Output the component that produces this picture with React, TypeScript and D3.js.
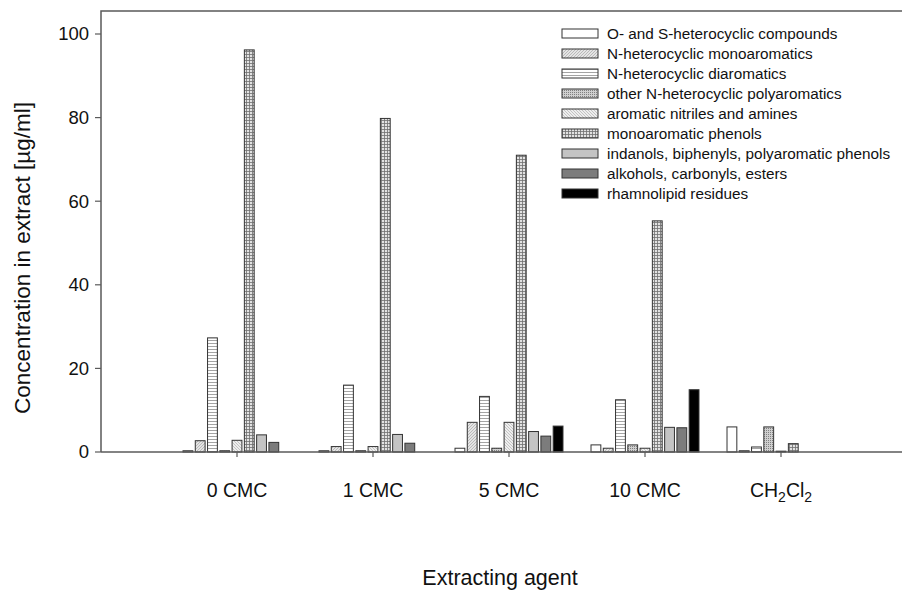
import React, { useEffect, useRef } from 'react'
import * as d3 from 'd3'

// categories on the x axis
const agents = ['0 CMC', '1 CMC', '5 CMC', '10 CMC', 'CH2Cl2']

const seriesNames = [
  'O- and S-heterocyclic compounds',
  'N-heterocyclic monoaromatics',
  'N-heterocyclic diaromatics',
  'other N-heterocyclic polyaromatics',
  'aromatic nitriles and amines',
  'monoaromatic phenols',
  'indanols, biphenyls, polyaromatic phenols',
  'alkohols, carbonyls, esters',
  'rhamnolipid residues'
]

// values per series, one per agent (µg/ml)
const oAndSHet = [0.3, 0.3, 0.9, 1.7, 6.0]
const nHetMono = [2.7, 1.3, 7.1, 0.9, 0.3]
const nHetDi = [27.3, 16.0, 13.3, 12.5, 1.2]
const nHetPoly = [0.3, 0.3, 0.9, 1.7, 6.0]
const nitrilesAmines = [2.8, 1.3, 7.1, 0.9, 0.2]
const monoPhenols = [96.2, 79.8, 71.0, 55.3, 2.0]
const indanols = [4.1, 4.2, 4.9, 5.9, 0]
const alcohols = [2.3, 2.1, 3.8, 5.8, 0]
const rhamnolipids = [0, 0, 6.2, 14.9, 0]

const yTicks = [0, 20, 40, 60, 80, 100]

const seriesValues = [oAndSHet, nHetMono, nHetDi, nHetPoly, nitrilesAmines, monoPhenols, indanols, alcohols, rhamnolipids]

// fill for each series (pattern ids or plain colours)
const fills = ['#ffffff', 'url(#pMono)', 'url(#pDi)', 'url(#pPoly)', 'url(#pNitr)', 'url(#pGrid)', '#c4c4c4', '#7c7c7c', '#000000']

const FONT = 'Liberation Sans, Arial, sans-serif'

export default function App() {
  const ref = useRef<SVGSVGElement>(null)

  useEffect(() => {
    const svg = d3.select(ref.current)
    svg.selectAll('*').remove()

    const width = 902
    const height = 590

    // x: agents sit at 1..5 on a linear axis from 0 to 6
    const x = d3.scaleLinear().domain([0, agents.length + 1]).range([101, 917])
    const y = d3.scaleLinear().domain([0, 100]).range([452, 34])
    const step = x(1) - x(0)
    const inner = d3.scaleBand<number>()
      .domain(d3.range(seriesNames.length))
      .range([-step * 0.397, step * 0.397])
      .paddingInner(0.2)

    const defs = svg.append('defs')

    const addPattern = (id: string, size: number, bg: string, draw: (p: any) => void) => {
      const p = defs.append('pattern')
        .attr('id', id)
        .attr('patternUnits', 'userSpaceOnUse')
        .attr('width', size)
        .attr('height', size)
      p.append('rect').attr('width', size).attr('height', size).attr('fill', bg)
      draw(p)
    }

    // N-heterocyclic monoaromatics: fine diagonal hatch
    addPattern('pMono', 3, '#e4e4e4', p => {
      p.append('path').attr('d', 'M0,3 L3,0').attr('stroke', '#a6a6a6').attr('stroke-width', 0.7)
    })
    // diaromatics: horizontal lines
    addPattern('pDi', 3, '#ffffff', p => {
      p.append('path').attr('d', 'M0,1.5 L3,1.5').attr('stroke', '#a4a4a4').attr('stroke-width', 1)
    })
    // polyaromatics: dense cross hatch
    addPattern('pPoly', 2, '#cfcfcf', p => {
      p.append('rect').attr('width', 1).attr('height', 1).attr('fill', '#808080')
    })
    // nitriles and amines: diagonal the other way
    addPattern('pNitr', 3, '#eeeeee', p => {
      p.append('path').attr('d', 'M0,0 L3,3').attr('stroke', '#b0b0b0').attr('stroke-width', 0.7)
    })
    // monoaromatic phenols: grid
    addPattern('pGrid', 3, '#e2e2e2', p => {
      p.append('path').attr('d', 'M0,0.5 L3,0.5 M0.5,0 L0.5,3').attr('stroke', '#707070').attr('stroke-width', 0.8)
    })

    svg.append('rect').attr('width', width).attr('height', height).attr('fill', '#fff')

    // bars
    seriesValues.forEach((vals, s) => {
      svg.append('g')
        .selectAll('rect')
        .data(vals.map((v, i) => ({ v, i })).filter(d => d.v > 0))
        .enter()
        .append('rect')
        .attr('x', d => x(d.i + 1) + (inner(s) as number))
        .attr('y', d => y(d.v))
        .attr('width', inner.bandwidth())
        .attr('height', d => y(0) - y(d.v))
        .attr('fill', fills[s])
        .attr('stroke', '#333')
        .attr('stroke-width', 1)
    })

    // frame
    const axisColor = '#5a5a5a'
    const top = y(105.5)
    svg.append('path')
      .attr('d', `M${x(0)},${y(0)} L${x(0)},${top} L${width + 2},${top}`)
      .attr('fill', 'none')
      .attr('stroke', axisColor)
      .attr('stroke-width', 1.5)
    svg.append('line')
      .attr('x1', x(0)).attr('x2', width + 2)
      .attr('y1', y(0)).attr('y2', y(0))
      .attr('stroke', axisColor)
      .attr('stroke-width', 1.5)

    // y ticks
    const yt = svg.append('g')
    yt.selectAll('line')
      .data(yTicks)
      .enter()
      .append('line')
      .attr('x1', x(0) - 6).attr('x2', x(0))
      .attr('y1', d => y(d)).attr('y2', d => y(d))
      .attr('stroke', axisColor)
      .attr('stroke-width', 1.2)
    yt.selectAll('text')
      .data(yTicks)
      .enter()
      .append('text')
      .attr('x', x(0) - 12)
      .attr('y', d => y(d))
      .attr('dy', '0.35em')
      .attr('text-anchor', 'end')
      .attr('font-family', FONT)
      .attr('font-size', 18.5)
      .attr('fill', '#111')
      .text(d => d)

    // x ticks and labels
    const xt = svg.append('g')
    xt.selectAll('line')
      .data(agents)
      .enter()
      .append('line')
      .attr('x1', (d, i) => x(i + 1)).attr('x2', (d, i) => x(i + 1))
      .attr('y1', y(0)).attr('y2', y(0) + 5)
      .attr('stroke', axisColor)
      .attr('stroke-width', 1.2)
    xt.selectAll('text')
      .data(agents)
      .enter()
      .append('text')
      .attr('x', (d, i) => x(i + 1))
      .attr('y', 497)
      .attr('text-anchor', 'middle')
      .attr('font-family', FONT)
      .attr('font-size', 19.5)
      .attr('fill', '#111')
      .each(function (d) {
        const t = d3.select(this)
        if (d === 'CH2Cl2') {
          t.append('tspan').text('CH')
          t.append('tspan').attr('font-size', 14).attr('dy', 5).text('2')
          t.append('tspan').attr('dy', -5).text('Cl')
          t.append('tspan').attr('font-size', 14).attr('dy', 5).text('2')
        } else {
          t.text(d)
        }
      })

    // axis titles
    svg.append('text')
      .attr('x', 500)
      .attr('y', 585)
      .attr('text-anchor', 'middle')
      .attr('font-family', FONT)
      .attr('font-size', 21.5)
      .attr('fill', '#111')
      .text('Extracting agent')

    svg.append('text')
      .attr('transform', 'translate(30, 258) rotate(-90)')
      .attr('text-anchor', 'middle')
      .attr('font-family', FONT)
      .attr('font-size', 22.5)
      .attr('fill', '#111')
      .text('Concentration in extract [µg/ml]')

    // legend
    const legend = svg.append('g').attr('transform', 'translate(562, 34)')
    const rows = legend.selectAll('g')
      .data(seriesNames)
      .enter()
      .append('g')
      .attr('transform', (d, i) => `translate(0, ${i * 20})`)
    rows.append('rect')
      .attr('x', 0).attr('y', -5)
      .attr('width', 36).attr('height', 9)
      .attr('fill', (d, i) => fills[i])
      .attr('stroke', '#333')
      .attr('stroke-width', 1)
    rows.append('text')
      .attr('x', 45)
      .attr('y', 0)
      .attr('dy', '0.35em')
      .attr('font-family', FONT)
      .attr('font-size', 15.3)
      .attr('fill', '#111')
      .text(d => d)
  }, [])

  return (
    <svg ref={ref} width={902} height={590} style={{ position: 'absolute', left: 0, top: 0 }} />
  )
}
